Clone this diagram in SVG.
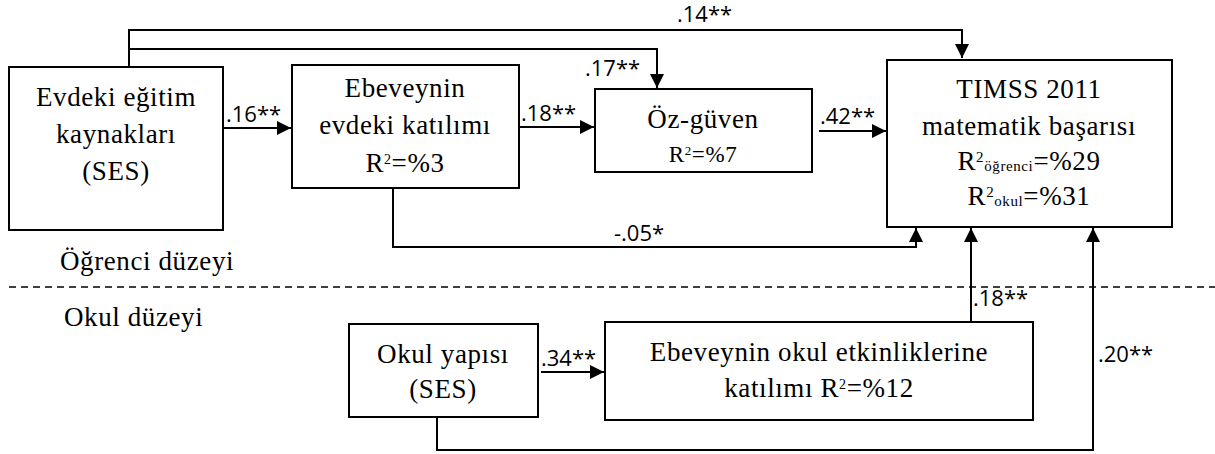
<svg xmlns="http://www.w3.org/2000/svg" width="1215" height="454" viewBox="0 0 1215 454">
<style>
.box{fill:#fff;stroke:#000;stroke-width:2}
.t{font-family:"Liberation Serif","Times New Roman",serif;font-size:27px;letter-spacing:0.6px;fill:#000;text-anchor:middle}
.s{font-size:23px}
.lbl{font-family:"Open Sans","Liberation Sans",sans-serif;font-size:22px;fill:#000}
.c{fill:none;stroke:#000;stroke-width:2}
.d{fill:none;stroke:#000;stroke-width:1.5;stroke-dasharray:7,5}
</style>
<defs>
<marker id="ah" viewBox="0 0 14 14" refX="14" refY="7" markerWidth="14" markerHeight="14" markerUnits="userSpaceOnUse" orient="auto">
<path d="M0,0 L14,7 L0,14 Z" fill="#000"/>
</marker>
</defs>
<g id="connectors">
<path class="c" d="M129,67 V30 H962 V58" marker-end="url(#ah)"/>
<path class="c" d="M129,49 H657 V88" marker-end="url(#ah)"/>
<path class="c" d="M224,128 H291" marker-end="url(#ah)"/>
<path class="c" d="M520,127 H594" marker-end="url(#ah)"/>
<path class="c" d="M819,131 H886" marker-end="url(#ah)"/>
<path class="c" d="M393,188 V247 H916 V228" marker-end="url(#ah)"/>
<path class="c" d="M971,322 V228" marker-end="url(#ah)"/>
<path class="c" d="M437,417 V450 H1093 V228" marker-end="url(#ah)"/>
<path class="c" d="M541,372 H604" marker-end="url(#ah)"/>
<path class="d" d="M9,287 H1215"/>
<text class="lbl" x="677" y="22">.14**</text>
<text class="lbl" x="585" y="76">.17**</text>
<text class="lbl" x="226" y="122">.16**</text>
<text class="lbl" x="521" y="121">.18**</text>
<text class="lbl" x="820" y="124">.42**</text>
<text class="lbl" x="614" y="241">-.05*</text>
<text class="lbl" x="973" y="306">.18**</text>
<text class="lbl" x="541" y="366">.34**</text>
<text class="lbl" x="1098" y="362">.20**</text>
</g>
<g id="labels">
<text class="t" x="60" y="270" style="text-anchor:start">Öğrenci düzeyi</text>
<text class="t" x="64" y="326" style="text-anchor:start">Okul düzeyi</text>
</g>
<g id="n1">
<rect class="box" x="9" y="67" width="214" height="163"/>
<text class="t" x="116" y="106">Evdeki eğitim</text>
<text class="t" x="116" y="143">kaynakları</text>
<text class="t" x="116" y="180">(SES)</text>
</g>
<g id="n2">
<rect class="box" x="292" y="65" width="227" height="123"/>
<text class="t" x="405" y="97">Ebeveynin</text>
<text class="t" x="405" y="134">evdeki katılımı</text>
<text class="t" x="405" y="172">R<tspan font-size="14" dy="-8">2</tspan><tspan dy="8">=%3</tspan></text>
</g>
<g id="n3">
<rect class="box" x="595" y="89" width="217" height="83"/>
<text class="t" x="703" y="128">Öz-güven</text>
<text class="t s" x="703" y="162">R<tspan font-size="13" dy="-7">2</tspan><tspan dy="7">=%7</tspan></text>
</g>
<g id="n4">
<rect class="box" x="887" y="60" width="285" height="167"/>
<text class="t" x="1029" y="98">TIMSS 2011</text>
<text class="t" x="1029" y="135">matematik başarısı</text>
<text class="t" x="1029" y="170">R<tspan font-size="15" dy="-8">2</tspan><tspan font-size="15" dy="9">öğrenci</tspan><tspan dy="-1">=%29</tspan></text>
<text class="t" x="1029" y="205">R<tspan font-size="15" dy="-8">2</tspan><tspan font-size="15" dy="9">okul</tspan><tspan dy="-1">=%31</tspan></text>
</g>
<g id="n5">
<rect class="box" x="349" y="324" width="189" height="93"/>
<text class="t" x="443" y="363">Okul yapısı</text>
<text class="t" x="443" y="398">(SES)</text>
</g>
<g id="n6">
<rect class="box" x="605" y="322" width="428" height="98"/>
<text class="t" x="819" y="361">Ebeveynin okul etkinliklerine</text>
<text class="t" x="819" y="397">katılımı R<tspan font-size="14" dy="-8">2</tspan><tspan dy="8">=%12</tspan></text>
</g>
</svg>
